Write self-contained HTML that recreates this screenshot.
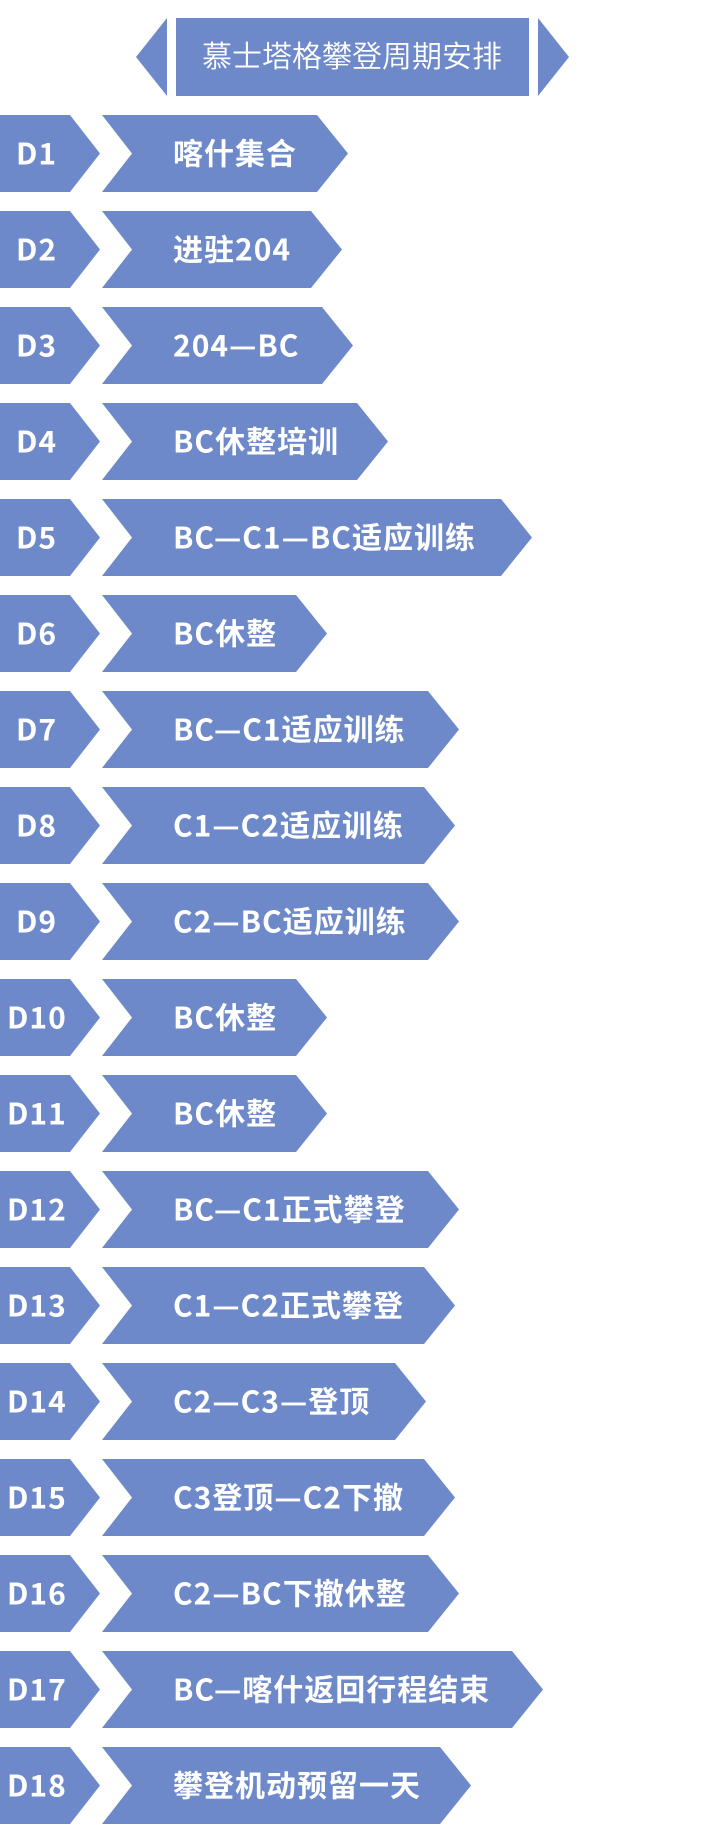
<!DOCTYPE html>
<html><head><meta charset="utf-8"><style>
html,body{margin:0;padding:0;background:#fff;}
svg{display:block;}
text{font-family:"Noto Sans CJK SC",sans-serif;fill:#fff;font-size:30px;font-weight:bold;letter-spacing:1px;}
.l{fill:#6e89c9;}
</style></head><body>
<svg width="702" height="1844" viewBox="0 0 702 1844" xmlns="http://www.w3.org/2000/svg">
<g fill="#6e89c9">
<polygon points="167,18 136,57 167,96"/>
<rect x="176" y="18" width="353" height="78"/>
<polygon points="538,18 569,57 538,96"/>
</g>
<text x="352" y="67" text-anchor="middle" style="font-weight:350;font-size:30px;letter-spacing:0">慕士塔格攀登周期安排</text>

<g transform="translate(0,115)"><polygon class="l" points="0,0 70,0 100,38.5 70,77 0,77"/><polygon class="l" points="102,0 317,0 348,38.5 317,77 102,77 132,38.5"/><text x="16" y="49.5">D1</text><text x="173" y="49.5">喀什集合</text></g>
<g transform="translate(0,211)"><polygon class="l" points="0,0 70,0 100,38.5 70,77 0,77"/><polygon class="l" points="102,0 311,0 342,38.5 311,77 102,77 132,38.5"/><text x="16" y="49.5">D2</text><text x="173" y="49.5">进驻204</text></g>
<g transform="translate(0,307)"><polygon class="l" points="0,0 70,0 100,38.5 70,77 0,77"/><polygon class="l" points="102,0 322,0 353,38.5 322,77 102,77 132,38.5"/><text x="16" y="49.5">D3</text><text x="173" y="49.5">204—BC</text></g>
<g transform="translate(0,403)"><polygon class="l" points="0,0 70,0 100,38.5 70,77 0,77"/><polygon class="l" points="102,0 357,0 388,38.5 357,77 102,77 132,38.5"/><text x="16" y="49.5">D4</text><text x="173" y="49.5">BC休整培训</text></g>
<g transform="translate(0,499)"><polygon class="l" points="0,0 70,0 100,38.5 70,77 0,77"/><polygon class="l" points="102,0 501,0 532,38.5 501,77 102,77 132,38.5"/><text x="16" y="49.5">D5</text><text x="173" y="49.5">BC—C1—BC适应训练</text></g>
<g transform="translate(0,595)"><polygon class="l" points="0,0 70,0 100,38.5 70,77 0,77"/><polygon class="l" points="102,0 296,0 327,38.5 296,77 102,77 132,38.5"/><text x="16" y="49.5">D6</text><text x="173" y="49.5">BC休整</text></g>
<g transform="translate(0,691)"><polygon class="l" points="0,0 70,0 100,38.5 70,77 0,77"/><polygon class="l" points="102,0 428,0 459,38.5 428,77 102,77 132,38.5"/><text x="16" y="49.5">D7</text><text x="173" y="49.5">BC—C1适应训练</text></g>
<g transform="translate(0,787)"><polygon class="l" points="0,0 70,0 100,38.5 70,77 0,77"/><polygon class="l" points="102,0 424,0 455,38.5 424,77 102,77 132,38.5"/><text x="16" y="49.5">D8</text><text x="173" y="49.5">C1—C2适应训练</text></g>
<g transform="translate(0,883)"><polygon class="l" points="0,0 70,0 100,38.5 70,77 0,77"/><polygon class="l" points="102,0 428,0 459,38.5 428,77 102,77 132,38.5"/><text x="16" y="49.5">D9</text><text x="173" y="49.5">C2—BC适应训练</text></g>
<g transform="translate(0,979)"><polygon class="l" points="0,0 70,0 100,38.5 70,77 0,77"/><polygon class="l" points="102,0 296,0 327,38.5 296,77 102,77 132,38.5"/><text x="7" y="49.5">D10</text><text x="173" y="49.5">BC休整</text></g>
<g transform="translate(0,1075)"><polygon class="l" points="0,0 70,0 100,38.5 70,77 0,77"/><polygon class="l" points="102,0 296,0 327,38.5 296,77 102,77 132,38.5"/><text x="7" y="49.5">D11</text><text x="173" y="49.5">BC休整</text></g>
<g transform="translate(0,1171)"><polygon class="l" points="0,0 70,0 100,38.5 70,77 0,77"/><polygon class="l" points="102,0 428,0 459,38.5 428,77 102,77 132,38.5"/><text x="7" y="49.5">D12</text><text x="173" y="49.5">BC—C1正式攀登</text></g>
<g transform="translate(0,1267)"><polygon class="l" points="0,0 70,0 100,38.5 70,77 0,77"/><polygon class="l" points="102,0 424,0 455,38.5 424,77 102,77 132,38.5"/><text x="7" y="49.5">D13</text><text x="173" y="49.5">C1—C2正式攀登</text></g>
<g transform="translate(0,1363)"><polygon class="l" points="0,0 70,0 100,38.5 70,77 0,77"/><polygon class="l" points="102,0 395,0 426,38.5 395,77 102,77 132,38.5"/><text x="7" y="49.5">D14</text><text x="173" y="49.5">C2—C3—登顶</text></g>
<g transform="translate(0,1459)"><polygon class="l" points="0,0 70,0 100,38.5 70,77 0,77"/><polygon class="l" points="102,0 424,0 455,38.5 424,77 102,77 132,38.5"/><text x="7" y="49.5">D15</text><text x="173" y="49.5">C3登顶—C2下撤</text></g>
<g transform="translate(0,1555)"><polygon class="l" points="0,0 70,0 100,38.5 70,77 0,77"/><polygon class="l" points="102,0 428,0 459,38.5 428,77 102,77 132,38.5"/><text x="7" y="49.5">D16</text><text x="173" y="49.5">C2—BC下撤休整</text></g>
<g transform="translate(0,1651)"><polygon class="l" points="0,0 70,0 100,38.5 70,77 0,77"/><polygon class="l" points="102,0 512,0 543,38.5 512,77 102,77 132,38.5"/><text x="7" y="49.5">D17</text><text x="173" y="49.5">BC—喀什返回行程结束</text></g>
<g transform="translate(0,1747)"><polygon class="l" points="0,0 70,0 100,38.5 70,77 0,77"/><polygon class="l" points="102,0 440,0 471,38.5 440,77 102,77 132,38.5"/><text x="7" y="49.5">D18</text><text x="173" y="49.5">攀登机动预留一天</text></g>
</svg>
</body></html>
